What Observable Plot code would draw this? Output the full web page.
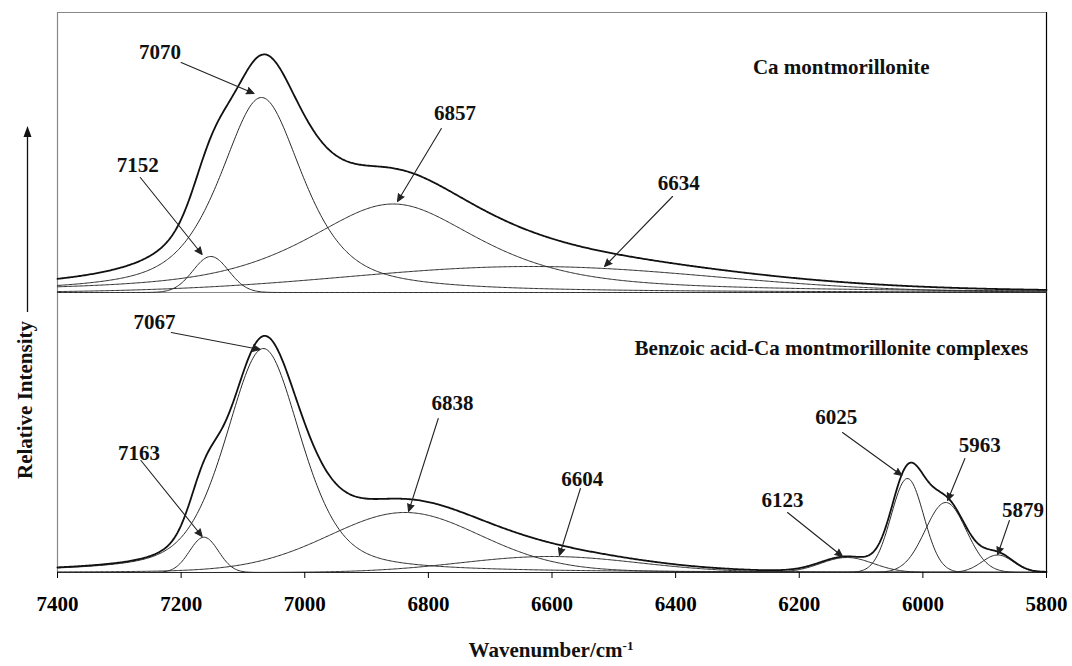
<!DOCTYPE html>
<html><head><meta charset="utf-8">
<script src="https://cdn.jsdelivr.net/npm/d3@7"></script>
<script src="https://cdn.jsdelivr.net/npm/@observablehq/plot@0.6"></script>
<style>
body{margin:0;background:#fff}
#chart{position:relative;width:1072px;height:666px}
</style>
</head><body><div id="chart"></div>
<script>
// ---- data ----
const panels = ["Ca montmorillonite", "Benzoic acid-Ca montmorillonite complexes"];
const xTicks = [7400, 7200, 7000, 6800, 6600, 6400, 6200, 6000, 5800];

// fitted bands, panel 1 (Ca montmorillonite)
const topCenters = [7152, 7070, 6857, 6634];
const topHeights = [36, 195, 88.5, 26];
const topFwhm    = [68, 160, 340, 700];
const topLorentz = [0, 0.65, 0.72, 0];

// fitted bands, panel 2 (benzoic acid complexes)
const botCenters = [7163, 7067, 6838, 6604, 6123, 6025, 5963, 5879];
const botHeights = [35.3, 224, 60, 16, 15, 94, 70, 17.5];
const botFwhm    = [55, 145, 296, 340, 100, 62, 78, 60];
const botLorentz = [0, 0.45, 0.15, 0, 0, 0, 0, 0];

// label placement (data units), same order as the band centres
const topLabelX  = [7270, 7234, 6757, 6395];
const topLabelY  = [127, 240, 179, 109];
const topArrowX1 = [7266, 7200, 6779, 6405];
const topArrowY1 = [115, 230, 164, 96];
const topArrowX2 = [7166, 7082, 6850, 6515];
const topArrowY2 = [38, 199, 91, 26];

const botLabelX  = [7268, 7243, 6761, 6551, 6227, 6140, 5908, 5838];
const botLabelY  = [119, 250, 169, 93, 72, 155, 127, 62];
const botArrowX1 = [7265, 7216, 6784, 6554, 6219, 6130, 5932, 5860];
const botArrowY1 = [112, 240, 154, 84, 60, 140, 114, 52];
const botArrowX2 = [7166, 7072, 6832, 6588, 6130, 6034, 5960, 5879];
const botArrowY2 = [36, 223, 61, 17, 16, 97, 72, 18];

const titleX = [6132, 6148];
const titleY = [225, 224];

// ---- build tables ----
const grid = d3.range(7400, 5799, -2);
function band(w, c, h, f, eta) {
  const d = (w - c) / f;
  return h * (eta / (1 + 4 * d * d) + (1 - eta) * Math.exp(-4 * Math.LN2 * d * d));
}
const comps = [], sums = [];
function build(panel, C, H, F, E) {
  grid.forEach(w => {
    let s = 0;
    C.forEach((c, i) => {
      const v = band(w, c, H[i], F[i], E[i]);
      s += v;
      comps.push({panel, key: panel + c, w, v});
    });
    sums.push({panel, w, v: s});
  });
}
build(panels[0], topCenters, topHeights, topFwhm, topLorentz);
build(panels[1], botCenters, botHeights, botFwhm, botLorentz);

const labels = [];
topCenters.forEach((c, i) => labels.push({panel: panels[0], t: String(c), tx: topLabelX[i], ty: topLabelY[i],
  x1: topArrowX1[i], y1: topArrowY1[i], x2: topArrowX2[i], y2: topArrowY2[i]}));
botCenters.forEach((c, i) => labels.push({panel: panels[1], t: String(c), tx: botLabelX[i], ty: botLabelY[i],
  x1: botArrowX1[i], y1: botArrowY1[i], x2: botArrowX2[i], y2: botArrowY2[i]}));
const titles = panels.map((p, i) => ({panel: p, x: titleX[i], y: titleY[i]}));

const serif = "'Liberation Serif', 'Times New Roman', Times, serif";

const chart = Plot.plot({
  width: 1072, height: 666,
  marginTop: 12, marginLeft: 57, marginRight: 26, marginBottom: 94,
  x: {domain: [7400, 5800]},
  y: {domain: [0, 280], axis: null},
  fy: {domain: panels, axis: null, padding: 0},
  style: {fontFamily: serif, background: "#fff", color: "#000"},
  marks: [
    Plot.ruleX([7400], {stroke: "#888", strokeWidth: 1.2}),
    Plot.ruleX([5800], {stroke: "#000", strokeWidth: 1.2}),
    Plot.ruleY([280], {stroke: "#888", strokeWidth: 1.2}),
    Plot.ruleY([{panel: panels[1], v: 0}], {y: "v", fy: "panel", stroke: "#000", strokeWidth: 1.2}),
    Plot.line(comps, {x: "w", y: "v", z: "key", fy: "panel", stroke: "#2a2a2a", strokeWidth: 1}),
    Plot.line(sums, {x: "w", y: "v", fy: "panel", stroke: "#111", strokeWidth: 1.8}),
    Plot.arrow(labels, {x1: "x1", y1: "y1", x2: "x2", y2: "y2", fy: "panel", stroke: "#222",
      strokeWidth: 1.1, headLength: 11, headAngle: 48}),
    Plot.text(labels, {x: "tx", y: "ty", fy: "panel", text: "t", fontSize: 21, fontWeight: "bold", fill: "#111"}),
    Plot.text(titles, {x: "x", y: "y", fy: "panel", text: "panel", fontSize: 21, fontWeight: "bold", fill: "#111"}),
    Plot.axisX({ticks: xTicks, tickFormat: d => String(d), tickSize: 6, tickPadding: 18,
      fontSize: 21, fontWeight: "bold", label: null, stroke: "#000"})
  ]
});
document.getElementById("chart").appendChild(chart);

const svg = d3.select(chart);
// filled arrow heads
svg.selectAll('g[aria-label="arrow"]').attr("fill", "#222");
svg.selectAll('g[aria-label="arrow"] path').attr("fill", "#222").style("fill", "#222");

// axis titles as real text
const xt = svg.append("text").attr("x", 551).attr("y", 657).attr("text-anchor", "middle")
  .attr("font-family", serif).attr("font-size", 21).attr("font-weight", "bold").attr("fill", "#111");
xt.append("tspan").text("Wavenumber/cm");
xt.append("tspan").attr("baseline-shift", "super").attr("font-size", 13).text("-1");

svg.append("text").attr("transform", "translate(25,400) rotate(-90)")
  .attr("text-anchor", "middle").attr("dominant-baseline", "central")
  .attr("font-family", serif).attr("font-size", 21).attr("font-weight", "bold").attr("fill", "#111")
  .text("Relative Intensity");
svg.append("line").attr("x1", 27.5).attr("x2", 27.5).attr("y1", 312).attr("y2", 134)
  .attr("stroke", "#111").attr("stroke-width", 1.3);
svg.append("path").attr("d", "M27.5,126 L23.5,137 L31.5,137 Z").attr("fill", "#111");
</script>
</body></html>
